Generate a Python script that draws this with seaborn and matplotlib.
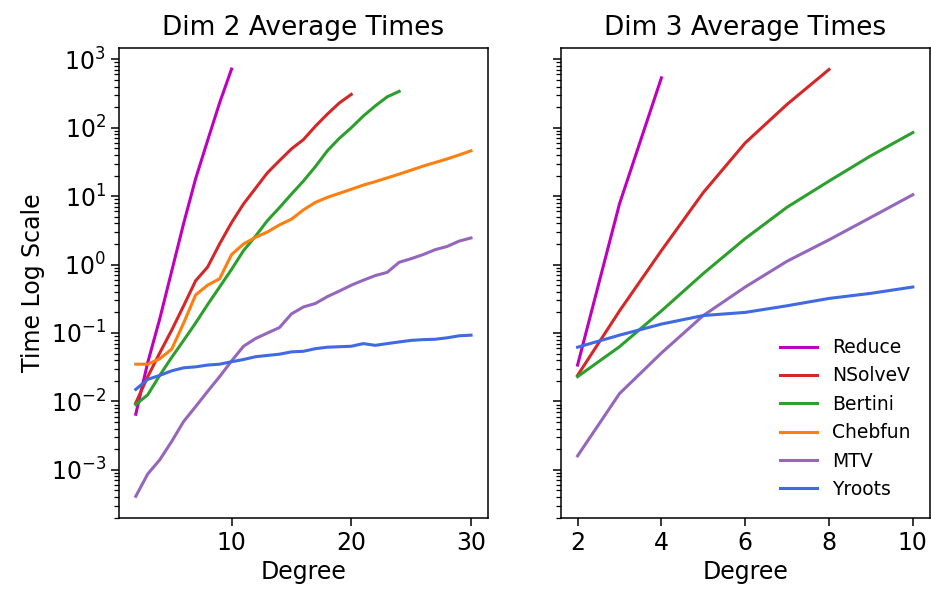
import numpy as np
import pandas as pd
import matplotlib
matplotlib.use("Agg")
import matplotlib.pyplot as plt
import seaborn as sns
from matplotlib.lines import Line2D

# ---------------- data ----------------
methods = ["Reduce", "NSolveV", "Bertini", "Chebfun", "MTV", "Yroots"]
colors = ["#bf00bf", "#d62728", "#2ca02c", "#ff7f0e", "#9467bd", "#4169e1"]

# Dim 2 (degree 2..)
reduce2 = [0.0065, 0.037, 0.16, 0.8, 4.0, 18, 65, 230, 720]
nsolvev2 = [0.0095, 0.023, 0.051, 0.11, 0.25, 0.58, 0.92, 2.0, 4.1, 7.7, 13, 22, 33,
            49, 67, 105, 158, 230, 307]
bertini2 = [0.009, 0.0125, 0.024, 0.044, 0.078, 0.14, 0.26, 0.47, 0.85, 1.6, 2.6,
            4.4, 6.8, 10.7, 16.6, 27, 46, 70, 100, 148, 208, 283, 340]
chebfun2 = [0.035, 0.035, 0.042, 0.058, 0.14, 0.36, 0.5, 0.62, 1.4, 2.0, 2.5, 3.0,
            3.8, 4.6, 6.3, 8.1, 9.6, 11, 12.6, 14.5, 16.3, 18.5, 21, 24, 27.5, 31,
            35, 40, 46]
mtv2 = [0.00041, 0.00087, 0.0014, 0.0026, 0.0051, 0.0084, 0.014, 0.023, 0.039,
        0.064, 0.083, 0.1, 0.12, 0.19, 0.24, 0.27, 0.34, 0.41, 0.5, 0.59, 0.69,
        0.77, 1.08, 1.22, 1.4, 1.65, 1.84, 2.2, 2.45]
yroots2 = [0.015, 0.021, 0.024, 0.028, 0.031, 0.032, 0.034, 0.035, 0.038, 0.041,
           0.045, 0.047, 0.049, 0.053, 0.054, 0.059, 0.062, 0.063, 0.064, 0.07,
           0.066, 0.07, 0.074, 0.078, 0.08, 0.081, 0.085, 0.091, 0.093]

# Dim 3 (degree 2..)
reduce3 = [0.034, 7.7, 535]
nsolvev3 = [0.024, 0.21, 1.6, 11.3, 60, 220, 710]
bertini3 = [0.023, 0.063, 0.21, 0.74, 2.4, 6.9, 16.6, 39, 85]
mtv3 = [0.0016, 0.013, 0.051, 0.18, 0.47, 1.12, 2.3, 4.9, 10.5]
yroots3 = [0.062, 0.093, 0.135, 0.18, 0.2, 0.25, 0.32, 0.38, 0.47]

dim2 = {"Reduce": reduce2, "NSolveV": nsolvev2, "Bertini": bertini2,
        "Chebfun": chebfun2, "MTV": mtv2, "Yroots": yroots2}
dim3 = {"Reduce": reduce3, "NSolveV": nsolvev3, "Bertini": bertini3,
        "MTV": mtv3, "Yroots": yroots3}


def to_long(d):
    rows = []
    for m, vals in d.items():
        for i, v in enumerate(vals):
            rows.append({"Method": m, "Degree": 2 + i, "Time": v})
    return pd.DataFrame(rows)


df2 = to_long(dim2)
df3 = to_long(dim3)
palette = dict(zip(methods, colors))

# ---------------- plot ----------------
plt.rcParams["font.family"] = ["DejaVu Sans"]
fig, (ax1, ax2) = plt.subplots(1, 2, figsize=(9.31, 5.92), dpi=100, sharey=True)
fig.subplots_adjust(left=119 / 931, right=0.9985, bottom=1 - 517.7 / 592,
                    top=1 - 47.7 / 592, wspace=0.198)

for ax, df in ((ax1, df2), (ax2, df3)):
    sns.lineplot(data=df, x="Degree", y="Time", hue="Method",
                 hue_order=[m for m in methods if m in df["Method"].unique()],
                 palette=palette, estimator=None, linewidth=2.2, ax=ax,
                 legend=False)
    ax.set_yscale("log")
    ax.set_xlabel("Degree", fontsize=17)
    ax.tick_params(axis="both", which="major", labelsize=17, length=6, width=1.1)
    ax.tick_params(axis="both", which="minor", length=3.5, width=0.9)
    for s in ax.spines.values():
        s.set_linewidth(1.1)

ax1.set_ylabel("Time Log Scale", fontsize=17)
ax2.set_ylabel("")
ax1.set_title("Dim 2 Average Times", fontsize=19, pad=9)
ax2.set_title("Dim 3 Average Times", fontsize=19, pad=9)
ax1.set_xticks([10, 20, 30])
ax2.set_xticks([2, 4, 6, 8, 10])
ax1.set_yticks([1e-3, 1e-2, 1e-1, 1e0, 1e1, 1e2, 1e3])

handles = [Line2D([0], [0], color=c, lw=2.2) for c in colors]
ax2.legend(handles, methods, loc="lower right", frameon=False, fontsize=13.5,
           handlelength=2.0, borderaxespad=0.6)

fig.savefig("out.png", dpi=100)
